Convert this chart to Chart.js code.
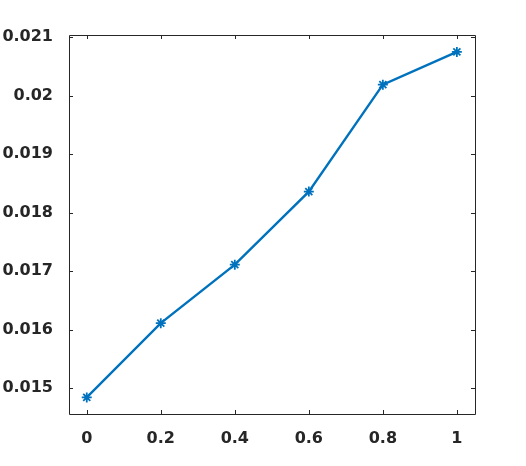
<!DOCTYPE html>
<html>
<head>
<meta charset="utf-8">
<script src="https://cdn.jsdelivr.net/npm/chart.js@4"></script>
<style>
  html, body { margin: 0; padding: 0; background: #fff; }
  canvas { display: block; }
</style>
</head>
<body>
<canvas id="chart" width="526" height="466"></canvas>
<script>
// data
const x_vals = [0, 0.2, 0.4, 0.6, 0.8, 1];
const y_vals = [0.01484, 0.01611, 0.01711, 0.01836, 0.02019, 0.02075];
const x_ticks = [0, 0.2, 0.4, 0.6, 0.8, 1];
const y_ticks = [0.015, 0.016, 0.017, 0.018, 0.019, 0.020, 0.021];

const AX = '#262626';
const FONT = { family: "'DejaVu Sans'", size: 16, weight: 'bold' };
const fmt = v => String(parseFloat(Number(v).toFixed(4)));

// matlab style box + inward ticks
const box_plugin = {
  id: 'box',
  afterDraw(chart) {
    const { ctx, chartArea: a } = chart;
    const xs = chart.scales.x, ys = chart.scales.y;
    const len = 4;
    ctx.save();
    ctx.strokeStyle = AX;
    ctx.lineWidth = 1;
    ctx.beginPath();
    ctx.rect(Math.round(a.left) + 0.5, Math.round(a.top) + 0.5,
      Math.round(a.right - a.left), Math.round(a.bottom - a.top));
    x_ticks.forEach(v => {
      const p = Math.round(xs.getPixelForValue(v)) + 0.5;
      ctx.moveTo(p, a.bottom); ctx.lineTo(p, a.bottom - len);
      ctx.moveTo(p, a.top); ctx.lineTo(p, a.top + len);
    });
    y_ticks.forEach(v => {
      const p = Math.round(ys.getPixelForValue(v)) + 0.5;
      ctx.moveTo(a.left, p); ctx.lineTo(a.left + len, p);
      ctx.moveTo(a.right, p); ctx.lineTo(a.right - len, p);
    });
    ctx.stroke();
    ctx.restore();
  }
};

const ctx = document.getElementById('chart').getContext('2d');
new Chart(ctx, {
  type: 'scatter',
  data: {
    datasets: [{
      data: x_vals.map((x, i) => ({ x, y: y_vals[i] })),
      showLine: true,
      borderColor: '#0072BD',
      backgroundColor: '#0072BD',
      borderWidth: 2.4,
      pointStyle: 'star',
      pointRadius: 5,
      pointBorderWidth: 1.8,
      pointBorderColor: '#0072BD'
    }]
  },
  options: {
    responsive: false,
    animation: false,
    layout: { padding: { left: 0, right: 51, top: 35, bottom: 0 } },
    plugins: { legend: { display: false }, tooltip: { enabled: false } },
    scales: {
      x: {
        type: 'linear',
        min: -0.048,
        max: 1.049,
        grid: { display: false },
        border: { display: false },
        afterBuildTicks: s => { s.ticks = x_ticks.map(v => ({ value: v })); },
        afterFit: s => { s.height = 52; },
        ticks: { color: AX, padding: 7, font: FONT, callback: v => fmt(v) }
      },
      y: {
        type: 'linear',
        min: 0.014556,
        max: 0.021039,
        grid: { display: false },
        border: { display: false },
        afterBuildTicks: s => { s.ticks = y_ticks.map(v => ({ value: v })); },
        afterFit: s => { s.width = 69; },
        ticks: { color: AX, padding: 8, font: FONT, callback: v => fmt(v) }
      }
    }
  },
  plugins: [box_plugin]
});
</script>
</body>
</html>
